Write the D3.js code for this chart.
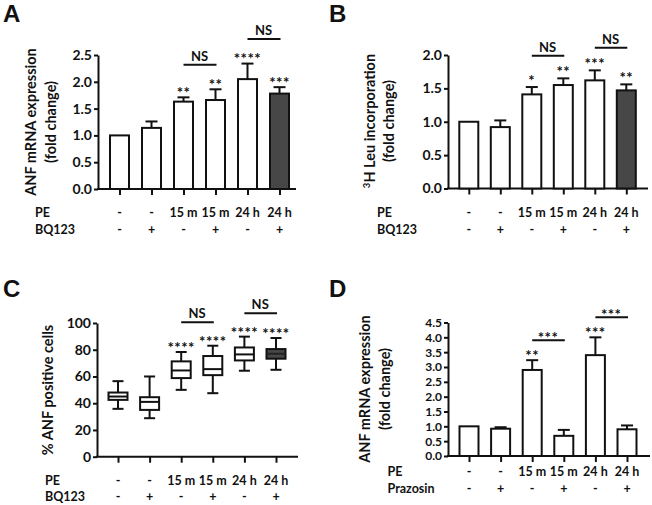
<!DOCTYPE html>
<html><head><meta charset="utf-8">
<script src="https://cdn.jsdelivr.net/npm/d3@7/dist/d3.min.js"></script>
<style>
html,body{margin:0;padding:0;background:#fff;}
svg{display:block;}
text{font-family:Lato,"Open Sans",sans-serif;font-weight:700;fill:#111;}
</style></head>
<body>
<script>
// ---- data ----
const peLabels = ["-", "-", "15 m", "15 m", "24 h", "24 h"];
const bqLabels = ["-", "+", "-", "+", "-", "+"];
const prazLabels = ["-", "+", "-", "+", "-", "+"];

const anfMean = [1.0, 1.14, 1.63, 1.66, 2.05, 1.78];
const anfSem  = [0, 0.12, 0.08, 0.20, 0.29, 0.12];
const anfStars = ["", "", "**", "**", "****", "***"];
const anfTicks = [0, 0.5, 1.0, 1.5, 2.0, 2.5];

const leuMean = [1.0, 0.92, 1.41, 1.55, 1.62, 1.47];
const leuSem  = [0, 0.10, 0.11, 0.10, 0.15, 0.09];
const leuStars = ["", "", "*", "**", "***", "**"];
const leuTicks = [0, 0.5, 1.0, 1.5, 2.0];

const boxMin = [35.8, 28.8, 50.0, 47.5, 64.3, 65.0];
const boxQ1  = [42.5, 35.0, 58.8, 61.0, 72.0, 73.3];
const boxMed = [45.0, 41.0, 64.5, 65.5, 76.5, 77.0];
const boxQ3  = [48.0, 44.5, 71.3, 75.3, 81.7, 80.5];
const boxMax = [56.5, 60.0, 78.3, 83.0, 89.8, 88.8];
const pctStars = ["", "", "****", "****", "****", "****"];
const pctTicks = [0, 20, 40, 60, 80, 100];

const prazMean = [1.0, 0.92, 2.90, 0.68, 3.40, 0.90];
const prazSem  = [0, 0.05, 0.33, 0.20, 0.60, 0.13];
const prazStars = ["", "", "**", "", "***", ""];
const prazTicks = [0, 0.5, 1.0, 1.5, 2.0, 2.5, 3.0, 3.5, 4.0, 4.5];

const compsBQ = [[2, 3, "NS"], [4, 5, "NS"]];
const compsPraz = [[2, 3, "***"], [4, 5, "***"]];
const darkLast = [false, false, false, false, false, true];
const noDark = [false, false, false, false, false, false];

// ---- drawing ----
const svg = d3.select("body").append("svg").attr("width", 652).attr("height", 505);
const DARK = "#474747";

function panel(cfg) {
  const g = svg.append("g");
  const y = d3.scaleLinear().domain([0, cfg.max]).range([cfg.y0, cfg.yTop]);
  const x = d3.scalePoint().domain(d3.range(6)).range([cfg.c0, cfg.c0 + 5 * cfg.step]);

  // letter
  g.append("text").attr("x", cfg.letterX).attr("y", cfg.letterY)
    .style("font-family", "'Liberation Sans',Arial,sans-serif").style("font-size", "24px")
    .text(cfg.letter);

  // y axis
  const ya = g.append("g").attr("transform", `translate(${cfg.ax},0)`)
    .call(d3.axisLeft(y).tickValues(cfg.ticks).tickSize(4).tickSizeOuter(0).tickPadding(2)
      .tickFormat(cfg.fmt));
  ya.selectAll("path,line").attr("stroke", "#111").attr("stroke-width", 2);
  ya.selectAll("text").style("font-size", cfg.tickFont + "px").style("font-family", "Lato,sans-serif").attr("fill", "#111");

  // x axis
  g.append("line").attr("x1", cfg.ax - 1).attr("x2", cfg.axEnd).attr("y1", cfg.y0).attr("y2", cfg.y0)
    .attr("stroke", "#111").attr("stroke-width", 2);
  const xa = g.append("g").attr("transform", `translate(0,${cfg.y0})`)
    .call(d3.axisBottom(x).tickSize(6).tickFormat(""));
  xa.select(".domain").remove();
  xa.selectAll("line").attr("stroke", "#111").attr("stroke-width", 2);

  // y title
  cfg.title.forEach((t, i) => {
    const tx = g.append("text")
      .attr("transform", `translate(${cfg.titleX[i]},${cfg.titleY}) rotate(-90)`)
      .attr("text-anchor", "middle").style("font-size", "14.5px");
    if (Array.isArray(t)) {
      tx.append("tspan").text(t[0]).attr("baseline-shift", "super").style("font-size", "9.5px");
      tx.append("tspan").text(t[1]);
    } else tx.text(t);
  });

  const tops = [];
  if (cfg.type === "bar") {
    const bw = 19;
    cfg.mean.forEach((m, i) => {
      g.append("rect").attr("x", x(i) - bw / 2).attr("y", y(m)).attr("width", bw)
        .attr("height", y(0) - y(m)).attr("fill", cfg.dark[i] ? DARK : "#fff")
        .attr("stroke", "#111").attr("stroke-width", 2);
      const top = y(m + cfg.sem[i]);
      tops.push(top);
      if (cfg.sem[i] > 0) {
        g.append("line").attr("x1", x(i)).attr("x2", x(i)).attr("y1", y(m)).attr("y2", top)
          .attr("stroke", "#111").attr("stroke-width", 2);
        g.append("line").attr("x1", x(i) - 6).attr("x2", x(i) + 6).attr("y1", top).attr("y2", top)
          .attr("stroke", "#111").attr("stroke-width", 2);
      }
    });
  } else {
    const bw = 19;
    cfg.q1.forEach((q, i) => {
      const cx = x(i);
      const st = (s) => s.attr("stroke", "#111").attr("stroke-width", 2);
      st(g.append("line").attr("x1", cx).attr("x2", cx).attr("y1", y(cfg.mx[i])).attr("y2", y(cfg.q3[i])));
      st(g.append("line").attr("x1", cx).attr("x2", cx).attr("y1", y(cfg.q1[i])).attr("y2", y(cfg.mn[i])));
      st(g.append("line").attr("x1", cx - 5.5).attr("x2", cx + 5.5).attr("y1", y(cfg.mx[i])).attr("y2", y(cfg.mx[i])));
      st(g.append("line").attr("x1", cx - 5.5).attr("x2", cx + 5.5).attr("y1", y(cfg.mn[i])).attr("y2", y(cfg.mn[i])));
      st(g.append("rect").attr("x", cx - bw / 2).attr("y", y(cfg.q3[i])).attr("width", bw)
        .attr("height", y(cfg.q1[i]) - y(cfg.q3[i])).attr("fill", cfg.dark[i] ? DARK : "#fff"));
      st(g.append("line").attr("x1", cx - bw / 2).attr("x2", cx + bw / 2).attr("y1", y(cfg.med[i])).attr("y2", y(cfg.med[i])))
        .attr("stroke", cfg.dark[i] ? "#222" : "#111");
      tops.push(y(cfg.mx[i]));
    });
  }

  // stars
  cfg.stars.forEach((s, i) => {
    if (!s) return;
    g.append("text").attr("x", x(i)).attr("y", tops[i] - cfg.starGap + 9)
      .attr("text-anchor", "middle").style("font-size", "15px").style("letter-spacing", "0.5px")
      .attr("fill", "#2a2a2a").text(s);
  });

  // comparisons
  cfg.comps.forEach(([a, b, lab]) => {
    const ly = Math.min(tops[a], tops[b]) - cfg.compGap;
    g.append("line").attr("x1", x(a)).attr("x2", x(b) + 1).attr("y1", ly).attr("y2", ly)
      .attr("stroke", "#111").attr("stroke-width", 2);
    const isStar = lab.indexOf("*") >= 0;
    g.append("text").attr("x", (x(a) + x(b)) / 2).attr("y", isStar ? ly + 2.5 : ly - 4)
      .attr("text-anchor", "middle").style("font-size", isStar ? "15px" : "13px")
      .style("letter-spacing", isStar ? "0.5px" : "0px")
      .attr("fill", isStar ? "#2a2a2a" : "#111").text(lab);
  });

  // condition rows
  cfg.rows.forEach((row, r) => {
    const by = cfg.rowY[r];
    g.append("text").attr("x", cfg.rowX).attr("y", by).style("font-size", "12.5px").text(row.name);
    row.vals.forEach((v, i) => {
      g.append("text").attr("x", x(i)).attr("y", by).attr("text-anchor", "middle")
        .style("font-size", "12.5px").text(v);
    });
  });
}

const f1 = d3.format(".1f");

panel({ letter: "A", letterX: 3, letterY: 22, type: "bar", max: 2.5, ticks: anfTicks, fmt: f1, tickFont: 14,
  y0: 189, yTop: 55, ax: 98, axEnd: 296, c0: 119.5, step: 32,
  title: ["ANF mRNA expression", "(fold change)"], titleX: [36, 56], titleY: 122,
  mean: anfMean, sem: anfSem, dark: darkLast, stars: anfStars, starGap: 8.5, comps: compsBQ, compGap: 24.5,
  rows: [{ name: "PE", vals: peLabels }, { name: "BQ123", vals: bqLabels }], rowX: 35, rowY: [217, 233.5] });

panel({ letter: "B", letterX: 329, letterY: 22, type: "bar", max: 2.0, ticks: leuTicks, fmt: f1, tickFont: 14,
  y0: 188.5, yTop: 55, ax: 448, axEnd: 648, c0: 468.8, step: 31.5,
  title: [["3", "H Leu incorporation"], "(fold change)"], titleX: [375, 394], titleY: 121,
  mean: leuMean, sem: leuSem, dark: darkLast, stars: leuStars, starGap: 10.5, comps: compsBQ, compGap: 22.5,
  rows: [{ name: "PE", vals: peLabels }, { name: "BQ123", vals: bqLabels }], rowX: 377, rowY: [216.5, 233.5] });

panel({ letter: "C", letterX: 3, letterY: 297, type: "box", max: 100, ticks: pctTicks, fmt: d3.format("d"), tickFont: 14,
  y0: 456.7, yTop: 323, ax: 97, axEnd: 298, c0: 118, step: 31.6,
  title: ["% ANF positive cells"], titleX: [52.5], titleY: 390,
  mn: boxMin, q1: boxQ1, med: boxMed, q3: boxQ3, mx: boxMax, dark: darkLast, stars: pctStars, starGap: 8, comps: compsBQ, compGap: 23.5,
  rows: [{ name: "PE", vals: peLabels }, { name: "BQ123", vals: bqLabels }], rowX: 45, rowY: [484.5, 501] });

panel({ letter: "D", letterX: 329, letterY: 297, type: "bar", max: 4.5, ticks: prazTicks, fmt: f1, tickFont: 12,
  y0: 456, yTop: 322.5, ax: 448, axEnd: 650, c0: 469, step: 31.6,
  title: ["ANF mRNA expression", "(fold change)"], titleX: [369.5, 390], titleY: 389,
  mean: prazMean, sem: prazSem, dark: noDark, stars: prazStars, starGap: 8.5, comps: compsPraz, compGap: 20,
  rows: [{ name: "PE", vals: peLabels }, { name: "Prazosin", vals: prazLabels }], rowX: 387.5, rowY: [476, 492.5] });
</script>
</body></html>
